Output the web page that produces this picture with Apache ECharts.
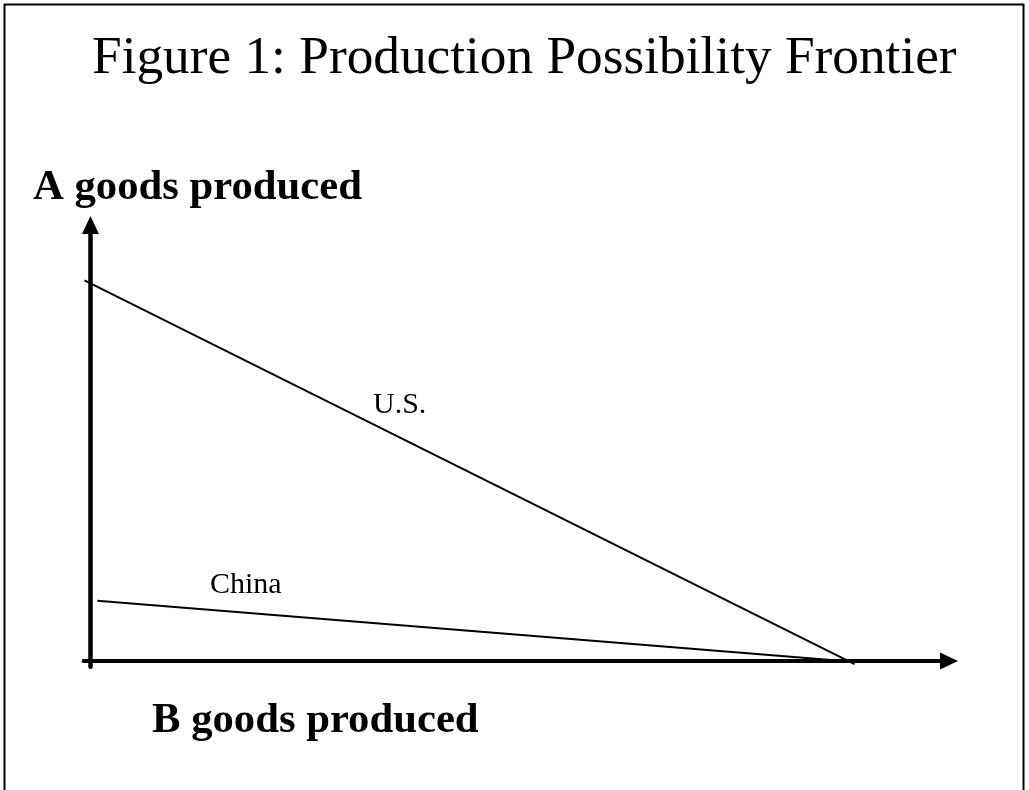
<!DOCTYPE html>
<html>
<head>
<meta charset="utf-8">
<title>Production Possibility Frontier</title>
<script src="https://cdn.jsdelivr.net/npm/echarts@6/dist/echarts.min.js"></script>
<style>
    html, body { margin: 0; padding: 0; background: #fff; }
    .content1 { width: 1029px; height: 790px; }
</style>
</head>
<body>
<div class="content1"></div>
<script>
// data (B goods on x, A goods on y)
var usLine = [[-0.7, 87.3], [89, -0.7]];
var chinaLine = [[0.8, 13.8], [87.7, 0]];
var lineNames = ["U.S.", "China"];
var titleText = "Figure 1: Production Possibility Frontier";
var yName = "A goods produced";
var xName = "B goods produced";

(function () {
    var myChart = echarts.init(document.getElementsByClassName("content1")[0]);
    var serif = "'Liberation Serif', 'Times New Roman', serif";

    var option = {
        animation: false,
        grid: {
            left: 83.6,
            right: 80,
            top: 225,
            bottom: 123.3
        },
        xAxis: {
            type: 'value',
            min: -0.8,
            max: 100,
            axisLine: {
                onZero: true,
                symbol: ['none', 'triangle'],
                symbolSize: [17, 18],
                lineStyle: { color: "#000", width: 4 }
            },
            axisTick: { show: false },
            axisLabel: { show: false },
            splitLine: { show: false }
        },
        yAxis: {
            type: 'value',
            min: -1.3,
            max: 100,
            axisLine: {
                onZero: true,
                symbol: ['none', 'triangle'],
                symbolSize: [17, 18],
                lineStyle: { color: "#000", width: 4.5 }
            },
            axisTick: { show: false },
            axisLabel: { show: false },
            splitLine: { show: false }
        },
        series: [
            {
                name: lineNames[0],
                type: 'line',
                symbol: 'none',
                lineStyle: { color: "#000", width: 2 },
                data: usLine
            },
            {
                name: lineNames[1],
                type: 'line',
                symbol: 'none',
                lineStyle: { color: "#000", width: 2 },
                data: chinaLine
            }
        ],
        graphic: [
            // 外框
            {
                type: 'rect',
                shape: { x: 4.5, y: 4.5, width: 1019, height: 820 },
                style: { fill: "none", stroke: "#000", lineWidth: 2 },
                silent: true
            },
            {
                type: 'text', left: 92, top: 33,
                style: { text: titleText, font: "53.3px " + serif, fill: "#000" }
            },
            {
                type: 'text', left: 33, top: 166,
                style: { text: yName, font: "bold 42.7px " + serif, fill: "#000" }
            },
            {
                type: 'text', left: 152, top: 699,
                style: { text: xName, font: "bold 42.7px " + serif, fill: "#000" }
            },
            {
                type: 'text', left: 373, top: 390,
                style: { text: lineNames[0], font: "30px " + serif, fill: "#000" }
            },
            {
                type: 'text', left: 210, top: 570,
                style: { text: lineNames[1], font: "30px " + serif, fill: "#000" }
            }
        ]
    };

    window.addEventListener("resize", function () {
        myChart.resize();
    })

    myChart.setOption(option);
})();
</script>
</body>
</html>
